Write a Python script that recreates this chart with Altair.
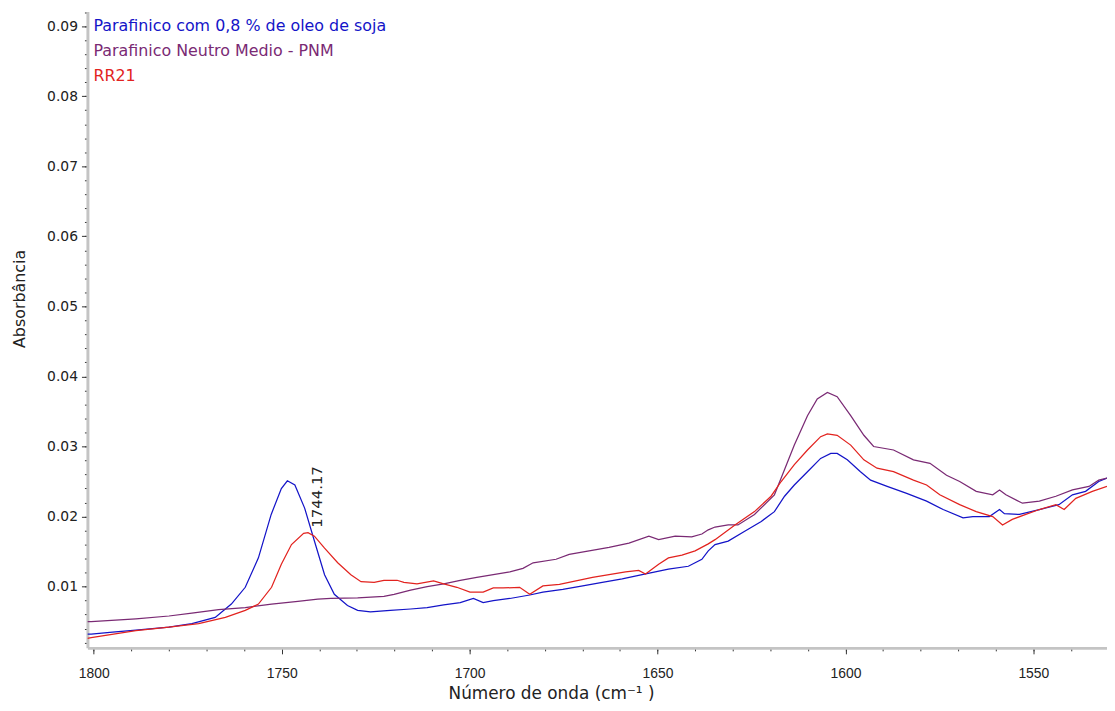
import altair as alt
import pandas as pd

# ---------------- data ----------------
series_names = ["Parafinico com 0,8 % de oleo de soja", "Parafinico Neutro Medio - PNM", "RR21"]
series_colors = ["#1414c8", "#7a2a74", "#e2231f"]

wn_blue = [1801.7, 1800.7, 1795, 1788.8, 1780, 1773.9, 1767.7, 1763.4, 1759.7, 1756.2, 1752.8, 1750.1,
           1748.5, 1746.5, 1743.9, 1741.3, 1738.6, 1736.0, 1732.5, 1729.8, 1726.4, 1721.1, 1715.7, 1711.3,
           1706.9, 1702.5, 1699.0, 1696.4, 1693.7, 1689.3, 1684.0, 1680.5, 1675.2, 1669.9, 1664.7, 1659.4,
           1654.1, 1650.6, 1647.1, 1641.8, 1638.2, 1636.5, 1634.7, 1631.2, 1626.8, 1622.4, 1618.9, 1616.2,
           1613.6, 1610.1, 1606.6, 1603.9, 1602.2, 1599.5, 1596.0, 1593.3, 1588.9, 1583.7, 1578.4, 1574.0,
           1568.7, 1566.1, 1561.7, 1559.0, 1557.7, 1553.7, 1548.4, 1543.2, 1539.6, 1536.1, 1532.6, 1530.4]
abs_blue = [0.0032, 0.0032, 0.0035, 0.0038, 0.0042, 0.0047, 0.0056, 0.0075, 0.0099, 0.0141, 0.0203, 0.0240,
            0.0251, 0.0245, 0.0212, 0.0165, 0.0117, 0.0089, 0.0073, 0.0066, 0.0064, 0.0066, 0.0068, 0.0070,
            0.0074, 0.0077, 0.0083, 0.0077, 0.0080, 0.0083, 0.0088, 0.0092, 0.0096, 0.0101, 0.0106, 0.0111,
            0.0117, 0.0121, 0.0125, 0.0129, 0.0139, 0.0151, 0.0160, 0.0165, 0.0179, 0.0193, 0.0207, 0.0229,
            0.0245, 0.0264, 0.0283, 0.0290, 0.0290, 0.0281, 0.0264, 0.0252, 0.0243, 0.0233, 0.0222, 0.0210,
            0.0198, 0.0200, 0.0200, 0.0210, 0.0204, 0.0203, 0.0210, 0.0217, 0.0231, 0.0236, 0.0250, 0.0255]

wn_purple = [1801.7, 1800.7, 1788.8, 1780.0, 1773.9, 1766.8, 1759.7, 1752.7, 1745.7, 1740.4, 1736.9, 1729.8,
             1722.8, 1720.1, 1715.7, 1711.3, 1706.9, 1702.5, 1698.1, 1693.7, 1689.3, 1685.8, 1683.1, 1677.0,
             1673.5, 1668.2, 1662.9, 1657.6, 1652.3, 1649.7, 1645.3, 1640.9, 1638.2, 1636.5, 1634.7, 1631.2,
             1628.6, 1624.2, 1618.9, 1617.1, 1613.6, 1610.1, 1607.5, 1604.8, 1602.2, 1598.6, 1595.1, 1592.5,
             1587.2, 1581.9, 1577.5, 1573.1, 1569.6, 1565.2, 1560.8, 1559.0, 1557.3, 1552.9, 1548.4, 1544.0,
             1539.6, 1535.2, 1532.6, 1530.4]
abs_purple = [0.0050, 0.0050, 0.0054, 0.0058, 0.0062, 0.0067, 0.0070, 0.0075, 0.0079, 0.0082, 0.0083, 0.0084,
              0.0086, 0.0089, 0.0095, 0.0100, 0.0104, 0.0109, 0.0113, 0.0117, 0.0121, 0.0126, 0.0134, 0.0139,
              0.0146, 0.0151, 0.0156, 0.0162, 0.0172, 0.0167, 0.0172, 0.0171, 0.0175, 0.0181, 0.0185, 0.0188,
              0.0188, 0.0203, 0.0231, 0.0255, 0.0302, 0.0344, 0.0368, 0.0377, 0.0371, 0.0344, 0.0316, 0.0300,
              0.0295, 0.0281, 0.0276, 0.0259, 0.0250, 0.0236, 0.0231, 0.0238, 0.0231, 0.0219, 0.0222, 0.0229,
              0.0238, 0.0243, 0.0252, 0.0255]

wn_red = [1801.7, 1800.7, 1788.8, 1780.0, 1772.1, 1765.0, 1759.7, 1756.2, 1752.7, 1750.1, 1747.4, 1744.17,
          1743.0, 1741.3, 1738.6, 1735.1, 1731.6, 1728.9, 1725.4, 1722.8, 1719.3, 1717.5, 1714.0, 1709.6,
          1706.9, 1703.4, 1699.9, 1696.4, 1693.7, 1691.1, 1686.7, 1684.0, 1680.5, 1676.1, 1671.7, 1667.3,
          1662.9, 1658.5, 1655.0, 1653.2, 1649.7, 1647.1, 1643.5, 1640.0, 1636.5, 1634.7, 1629.4, 1624.2,
          1619.8, 1617.1, 1613.6, 1610.1, 1606.6, 1604.8, 1602.2, 1598.6, 1595.1, 1591.6, 1587.2, 1581.9,
          1578.4, 1574.9, 1569.6, 1565.2, 1560.8, 1558.2, 1555.6, 1552.0, 1548.4, 1544.0, 1541.8, 1538.7,
          1534.3, 1530.4]
abs_red = [0.0026, 0.0027, 0.0037, 0.0042, 0.0047, 0.0056, 0.0066, 0.0075, 0.0099, 0.0132, 0.0160, 0.0176,
           0.0177, 0.0172, 0.0155, 0.0134, 0.0117, 0.0107, 0.0106, 0.0109, 0.0109, 0.0106, 0.0104, 0.0108,
           0.0104, 0.0099, 0.0092, 0.0092, 0.0098, 0.0098, 0.0099, 0.0089, 0.0101, 0.0103, 0.0108, 0.0113,
           0.0117, 0.0121, 0.0123, 0.0118, 0.0132, 0.0141, 0.0145, 0.0151, 0.0161, 0.0167, 0.0188, 0.0207,
           0.0229, 0.0250, 0.0274, 0.0295, 0.0314, 0.0318, 0.0316, 0.0302, 0.0281, 0.0269, 0.0264, 0.0252,
           0.0245, 0.0231, 0.0217, 0.0207, 0.0200, 0.0188, 0.0196, 0.0203, 0.0210, 0.0217, 0.0210, 0.0226,
           0.0236, 0.0243]

peak_wn = [1744.17]
peak_abs = [0.0177]
peak_text = ["1744.17"]

x_major = [1800, 1750, 1700, 1650, 1600, 1550]
x_minor = list(range(1540, 1801, 10))
y_major = [0.01, 0.02, 0.03, 0.04, 0.05, 0.06, 0.07, 0.08, 0.09]
y_minor = [round(0.002 * i, 3) for i in range(1, 47)]

# ---------------- tables ----------------
frames = []
for name, wn, ab in zip(series_names, [wn_blue, wn_purple, wn_red], [abs_blue, abs_purple, abs_red]):
    frames.append(pd.DataFrame({"wn": wn, "abs": ab, "serie": name, "ord": range(len(wn))}))
df = pd.concat(frames, ignore_index=True)
peak_df = pd.DataFrame({"wn": peak_wn, "abs": peak_abs, "label": peak_text})
legend_df = pd.DataFrame({"serie": series_names, "idx": list(range(len(series_names)))})

FONT = "Liberation Sans"
WIDE = "DejaVu Sans"
xscale = alt.Scale(domain=[1801.7, 1530.4], nice=False, zero=False)
yscale = alt.Scale(domain=[0.00125, 0.0921], nice=False, zero=False)
cscale = alt.Scale(domain=series_names, range=series_colors)

x_axis = alt.Axis(values=x_major, format="d", orient="bottom", grid=False,
                  labelFont=FONT, labelFontSize=14, labelColor="#222222", labelPadding=13,
                  tickColor="#333333", tickSize=6, tickWidth=1,
                  domainColor="#c4c4c4", domainWidth=3,
                  title="Número de onda (cm⁻¹ )", titleFont=WIDE, titleFontSize=17,
                  titleFontWeight="normal", titleColor="#222222",
                  titleX=467, titleY=51, titleAlign="center", titleBaseline="alphabetic")
y_axis = alt.Axis(values=y_major, format=".2f", orient="left", grid=False,
                  labelFont=WIDE, labelFontSize=14, labelColor="#222222", labelPadding=4,
                  tickColor="#333333", tickSize=6, tickWidth=1,
                  domainColor="#c4c4c4", domainWidth=3,
                  title="Absorbância", titleFont=WIDE, titleFontSize=16,
                  titleFontWeight="normal", titleColor="#222222",
                  titleX=-60, titleY=289, titleAlign="center", titleAngle=270, titleBaseline="bottom")
x_axis_minor = alt.Axis(values=x_minor, orient="bottom", grid=False, labels=False, domain=False,
                        tickColor="#333333", tickSize=3, tickWidth=1, title=None)
y_axis_minor = alt.Axis(values=y_minor, orient="left", grid=False, labels=False, domain=False,
                        tickColor="#333333", tickSize=3, tickWidth=1, title=None)

base = alt.Chart(df)

minor = base.mark_line(opacity=0).encode(
    x=alt.X("wn:Q", scale=xscale, axis=x_axis_minor),
    y=alt.Y("abs:Q", scale=yscale, axis=y_axis_minor),
    detail="serie:N",
)

lines = base.mark_line(strokeWidth=1.25, clip=True).encode(
    x=alt.X("wn:Q", scale=xscale, axis=x_axis),
    y=alt.Y("abs:Q", scale=yscale, axis=y_axis),
    color=alt.Color("serie:N", scale=cscale, legend=None),
    order="ord:Q",
)

peak = alt.Chart(peak_df).mark_text(angle=270, align="left", baseline="middle", dx=5, dy=14,
                                    font=WIDE, fontSize=15, color="#222222").encode(
    x=alt.X("wn:Q", scale=xscale, axis=None),
    y=alt.Y("abs:Q", scale=yscale, axis=None),
    text="label:N",
)

legend = alt.Chart(legend_df).mark_text(align="left", baseline="middle", font=WIDE, fontSize=16).encode(
    x=alt.value(6),
    y=alt.Y("idx:Q", scale=alt.Scale(domain=[0, 2], range=[15, 65]), axis=None),
    text="serie:N",
    color=alt.Color("serie:N", scale=cscale, legend=None),
)

chart = alt.layer(minor, lines, peak, legend).resolve_scale(
    y="independent"
).resolve_axis(
    x="independent", y="independent"
).properties(
    width=1027, height=641,
    padding={"left": 80, "top": 1, "right": 0, "bottom": 53},
    autosize=alt.AutoSizeParams(type="none"),
    background="white",
).configure_view(stroke=None)

chart.save("out.html", embed_options={"renderer": "svg", "actions": False})
